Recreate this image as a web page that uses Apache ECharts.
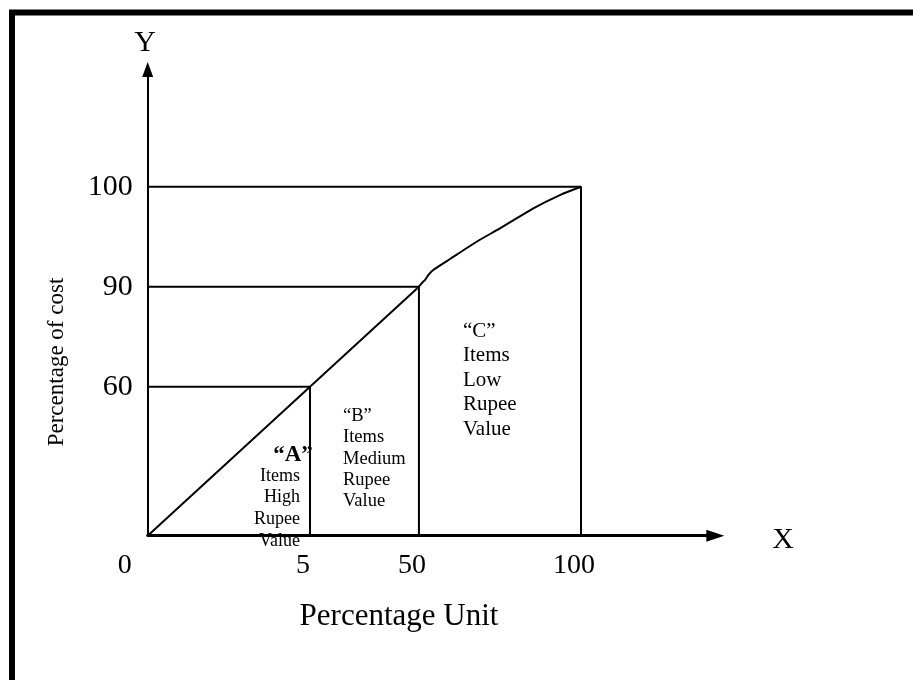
<!DOCTYPE html>
<html>
<head>
<meta charset="utf-8">
<script src="https://cdn.jsdelivr.net/npm/echarts@6/dist/echarts.min.js"></script>
<style>
html,body{margin:0;padding:0;background:#fff;}
#chart{width:913px;height:680px;}
</style>
</head>
<body>
<div id="chart"></div>
<script>
// ---- data ----
const xTicks = [0, 5, 50, 100];          // Percentage Unit tick labels
const yTicks = [60, 90, 100];            // Percentage of cost tick labels
const classX = [5, 50, 100];             // A / B / C class boundaries (units)
const classY = [60, 90, 100];            // cumulative cost at boundaries
const curveAB = [[0, 0], [5, 60], [50, 90]];
const curveC = [[50, 90], [51.0, 90.4], [51.85, 90.67], [53.0, 91.2], [54.4, 91.67], [59.6, 92.77],
                [67.8, 94.5], [75.0, 95.84], [85.3, 97.84], [93.5, 99.17], [100, 100]];

// ---- schematic (non-linear) scales of the diagram ----
const xScale = { real: [0, 5, 50, 100], disp: [0, 37.46, 62.6, 100] };
const yScale = { real: [0, 60, 90, 100], disp: [0, 42.69, 71.35, 100] };
function mapv(s, v) {
  for (let i = 1; i < s.real.length; i++) {
    if (v <= s.real[i]) {
      const t = (v - s.real[i - 1]) / (s.real[i] - s.real[i - 1]);
      return s.disp[i - 1] + t * (s.disp[i] - s.disp[i - 1]);
    }
  }
  return s.disp[s.disp.length - 1];
}
const P = p => [mapv(xScale, p[0]), mapv(yScale, p[1])];
const xTickPos = xTicks.map(v => mapv(xScale, v));
const yTickPos = yTicks.map(v => mapv(yScale, v));
function labelFor(pos, ticks, tickPos) {
  for (let i = 0; i < tickPos.length; i++) if (Math.abs(pos - tickPos[i]) < 0.05) return String(ticks[i]);
  return '';
}

const FONT = 'Liberation Serif';
const lineStyle = { color: '#000', width: 2, join: 'round' };

const series = [];
series.push({ type: 'line', data: curveAB.map(P), symbol: 'none', lineStyle, silent: true });
series.push({ type: 'line', data: curveC.map(P), symbol: 'none', smooth: 0.2, lineStyle, silent: true });
for (let i = 0; i < classX.length; i++) {
  series.push({
    type: 'line', symbol: 'none', lineStyle: { color: '#000', width: 2 }, silent: true,
    data: [[0, classY[i]], [classX[i], classY[i]], [classX[i], 0]].map(P)
  });
}

const chart = echarts.init(document.getElementById('chart'), null, { renderer: 'canvas' });
chart.setOption({
  animation: false,
  backgroundColor: '#fff',
  grid: { left: 147.7, top: 69.5, width: 567.6, height: 466.2 },
  xAxis: {
    type: 'value', min: 0, max: 131,
    axisLine: { onZero: false, symbol: ['none', 'triangle'], symbolSize: [12, 18], lineStyle: { color: '#000', width: 3 } },
    axisTick: { show: false },
    splitLine: { show: false },
    axisLabel: {
      customValues: xTickPos, margin: 16, color: '#000', fontFamily: FONT, fontSize: 28,
      formatter: v => {
        const s = labelFor(v, xTicks, xTickPos);
        if (s === '') return '';
        return s === '0' ? '{z|0}' : '{n|' + s + '}';
      },
      rich: {
        z: { fontFamily: FONT, fontSize: 28, color: '#000', padding: [0, 46, 0, 0] },
        n: { fontFamily: FONT, fontSize: 28, color: '#000', padding: [0, 14, 0, 0] }
      }
    }
  },
  yAxis: {
    type: 'value', min: 0, max: 133.6,
    axisLine: { onZero: false, symbol: ['none', 'triangle'], symbolSize: [11, 15], lineStyle: { color: '#000', width: 2 } },
    axisTick: { show: false },
    splitLine: { show: false },
    axisLabel: {
      customValues: yTickPos, margin: 15, color: '#000', fontFamily: FONT, fontSize: 30,
      formatter: v => labelFor(v, yTicks, yTickPos)
    }
  },
  series,
  graphic: [
    { type: 'rect', silent: true, shape: { x: 12, y: 12.5, width: 1200, height: 1200 },
      style: { fill: 'none', stroke: '#000', lineWidth: 6 } },
    { type: 'text', x: 145, y: 43, style: { text: 'Y', fontFamily: FONT, fontSize: 30, fill: '#000', align: 'center', verticalAlign: 'middle' } },
    { type: 'text', x: 783, y: 540, style: { text: 'X', fontFamily: FONT, fontSize: 30, fill: '#000', align: 'center', verticalAlign: 'middle' } },
    { type: 'text', x: 57, y: 362, rotation: Math.PI / 2,
      style: { text: 'Percentage of cost', fontFamily: FONT, fontSize: 23, fill: '#000', align: 'center', verticalAlign: 'middle' } },
    { type: 'text', x: 399, y: 617, style: { text: 'Percentage Unit', fontFamily: FONT, fontSize: 31, fill: '#000', align: 'center', verticalAlign: 'middle' } },
    { type: 'text', x: 293, y: 455, style: { text: '\u201CA\u201D', fontFamily: FONT, fontSize: 23, fontWeight: 'bold', fill: '#000', align: 'center', verticalAlign: 'middle' } },
    { type: 'text', x: 300, y: 465, style: { text: 'Items\nHigh\nRupee\nValue', fontFamily: FONT, fontSize: 18, lineHeight: 21.7, fill: '#000', align: 'right', verticalAlign: 'top' } },
    { type: 'text', x: 343, y: 405.5, style: { text: '\u201CB\u201D\nItems\nMedium\nRupee\nValue', fontFamily: FONT, fontSize: 18.5, lineHeight: 21.3, fill: '#000', align: 'left', verticalAlign: 'top' } },
    { type: 'text', x: 463, y: 318.8, style: { text: '\u201CC\u201D\nItems\nLow\nRupee\nValue', fontFamily: FONT, fontSize: 21, lineHeight: 24.5, fill: '#000', align: 'left', verticalAlign: 'top' } }
  ]
});
</script>
</body>
</html>
